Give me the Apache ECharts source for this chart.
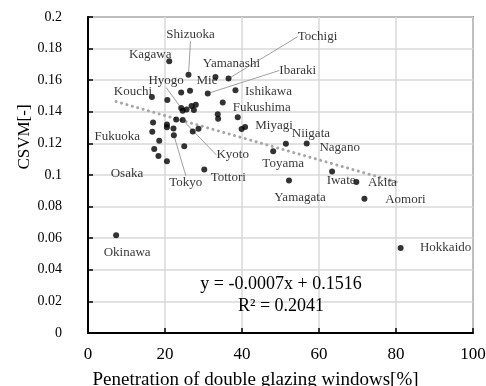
<!DOCTYPE html>
<html><head><meta charset="utf-8">
<script src="https://cdn.jsdelivr.net/npm/echarts@6/dist/echarts.min.js"></script>
<style>html,body{margin:0;padding:0;background:#fff}#c{width:486px;height:386px}</style>
</head><body><div id="c"></div>
<script>
// ---- data ----
const names = ['Kagawa','Shizuoka','Yamanashi','Tochigi','Ibaraki','Ishikawa','','Mie','Kouchi','','',
  'Hyogo','','','','','','','','Fukushima','','Miyagi','','Kyoto','','','','','','','Fukuoka','Tokyo',
  '','','','','Osaka','Tottori','Okinawa','Toyama','Niigata','Nagano','Iwate','Akita','Yamagata','Aomori','Hokkaido'];
const penetration = [21.1,26.1,33.1,36.5,31.1,38.3,24.2,26.5,16.6,20.6,35.0,
  24.2,24.6,25.6,26.9,28.0,27.5,33.7,33.8,38.9,39.9,40.8,22.9,24.6,16.9,20.5,20.5,22.2,28.7,27.2,16.7,22.3,
  18.5,25.0,17.2,18.3,20.5,30.2,7.3,48.1,51.4,56.8,63.4,69.7,52.2,71.8,81.2];
const csvm = [0.172,0.1634,0.162,0.161,0.1516,0.1537,0.1522,0.1533,0.1493,0.1474,0.1459,
  0.1424,0.1407,0.1415,0.1436,0.1445,0.1411,0.1384,0.1356,0.1365,0.1291,0.1304,0.1352,0.1348,0.1333,0.1319,0.1302,0.1295,0.1293,0.1276,0.1273,0.1252,
  0.1216,0.1182,0.1165,0.1121,0.1087,0.1035,0.0618,0.115,0.1197,0.1199,0.1022,0.0955,0.0965,0.085,0.0538];
const trendSlope = -0.0007;
const trendIntercept = 0.1516;
const r2 = 0.2041;
const xTicks = [0,20,40,60,80,100];
const yTicks = [0,0.02,0.04,0.06,0.08,0.1,0.12,0.14,0.16,0.18,0.2];

// ---- label placement (style, not data) ----
const labelPlace = {
  Kagawa:[-19,-7], Shizuoka:[2,-40,1], Yamanashi:[16,-13], Tochigi:[89,-42,1], Ibaraki:[90,-23,1],
  Ishikawa:[33,1], Mie:[17,-10], Kouchi:[-19,-6], Hyogo:[-15,-27,1], Fukushima:[24,-10],
  Miyagi:[29,-1], Kyoto:[50,35,1], Fukuoka:[-35,5], Tokyo:[12,47,1], Osaka:[-40,12],
  Tottori:[24,8], Okinawa:[11,17], Toyama:[10,12], Niigata:[25,-10], Nagano:[33,4],
  Iwate:[9,9], Akita:[26,0], Yamagata:[11,17], Aomori:[41,1], Hokkaido:[45,0]
};

const scatterData = names.map((n,i)=>{
  const d = {name:n, value:[penetration[i], csvm[i]]};
  const p = labelPlace[n];
  if (p) {
    d.label = {show:true};
    if (p[2]) d.labelLine = {show:true, lineStyle:{color:'#a0a0a0', width:1}};
  } else {
    d.label = {show:false};
  }
  return d;
});

const xMin = Math.min(...penetration), xMax = Math.max(...penetration);
const trendData = [[xMin, trendSlope*xMin+trendIntercept],[xMax, trendSlope*xMax+trendIntercept]];

const serif = 'Liberation Serif, Times New Roman, serif';
const chart = echarts.init(document.getElementById('c'), null, {renderer:'canvas'});
chart.setOption({
  animation:false,
  backgroundColor:'#fff',
  title:{
    text:'y = ' + trendSlope.toFixed(4) + 'x + ' + trendIntercept.toFixed(4) + '\nR² = ' + r2.toFixed(4),
    left:276, top:268, textAlign:'center',
    textStyle:{fontFamily:serif, fontSize:18, fontWeight:'normal', color:'#000', lineHeight:22}
  },
  grid:{left:88, right:13, top:17, bottom:53, containLabel:false, outerBoundsMode:'none',
    show:true, borderColor:'#404040', borderWidth:1.5},
  xAxis:{
    type:'value', min:xTicks[0], max:xTicks[xTicks.length-1], interval:20,
    name:'Penetration of double glazing windows[%]', nameLocation:'middle', nameGap:38,
    nameTextStyle:{fontFamily:serif, fontSize:19, color:'#000', padding:[0,50,0,0]},
    axisLine:{lineStyle:{color:'#000', width:2}},
    axisTick:{show:true, inside:true, length:5, lineStyle:{color:'#000', width:1.5}},
    axisLabel:{fontFamily:serif, fontSize:17, color:'#000', margin:13},
    splitLine:{lineStyle:{color:'#d9d9d9', width:1.5}}
  },
  yAxis:{
    type:'value', min:yTicks[0], max:yTicks[yTicks.length-1], interval:0.02,
    name:'CSVM[-]', nameLocation:'middle', nameGap:55, nameRotate:90, nameMoveOverlap:false,
    nameTextStyle:{fontFamily:serif, fontSize:17, color:'#000', padding:[0,0,0,76]},
    axisLine:{show:true, lineStyle:{color:'#000', width:2}},
    axisTick:{show:true, inside:true, length:5, lineStyle:{color:'#000', width:1.5}},
    axisLabel:{fontFamily:serif, fontSize:14, color:'#000', margin:26,
      formatter:v=>String(+v.toFixed(2))},
    splitLine:{lineStyle:{color:'#d9d9d9', width:1.5}}
  },
  series:[
    {
      type:'line', data:trendData, symbol:'none', silent:true, z:1,
      lineStyle:{color:'#a6a6a6', width:3, type:[0.1,5.5], cap:'round'}
    },
    {
      type:'scatter', data:scatterData, symbol:'circle', symbolSize:6, z:3,
      itemStyle:{color:'#000'},
      label:{position:'inside', formatter:'{b}', fontFamily:serif, fontSize:13, color:'#000'},
      labelLayout:function(params){
        const p = labelPlace[names[params.dataIndex]];
        return p ? {dx:p[0], dy:p[1]} : {};
      }
    }
  ]
});
</script>
</body></html>
